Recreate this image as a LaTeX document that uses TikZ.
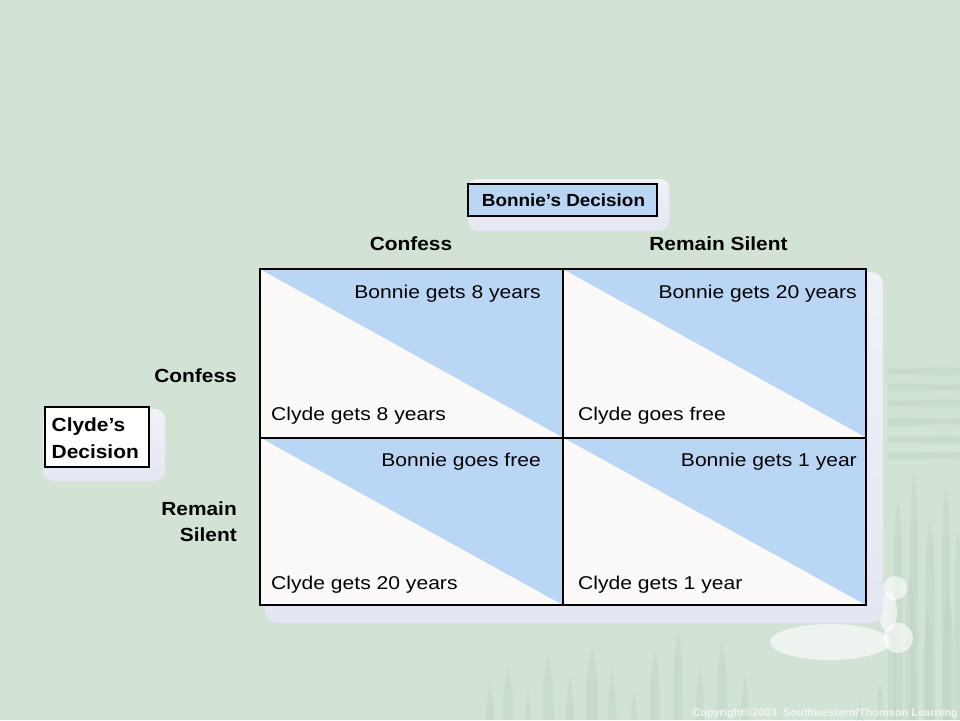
\documentclass[tikz,border=0pt]{standalone}
\usepackage{fontspec}
\setmainfont{Liberation Sans}
\newfontfamily\cellf{Liberation Sans}[FakeStretch=1.14]
\newfontfamily\labf{Liberation Sans}[FakeStretch=1.1]
\newfontfamily\bdf{Liberation Sans}[FakeStretch=1.08]
\definecolor{bgc}{RGB}{210,226,213}
\definecolor{decoc}{RGB}{186,207,190}
\definecolor{shadc}{RGB}{228,231,242}
\definecolor{cellw}{RGB}{252,250,248}
\definecolor{cellb}{RGB}{186,214,245}
\definecolor{copyc}{RGB}{240,245,241}
\tikzset{
  celltxt/.style={inner sep=0pt, font=\cellf\fontsize{18.5}{22}\selectfont},
  labtxt/.style={inner sep=0pt, font=\labf\bfseries\fontsize{19}{22}\selectfont},
  deco/.style={fill=decoc, opacity=0.35},
  gridline/.style={line width=2pt, draw=black},
  shadowbox/.style={top color=shadc!55!white, bottom color=shadc},
}
\begin{document}
\begin{tikzpicture}[x=1pt,y=-1pt]
\useasboundingbox (0,0) rectangle (960,720);
\fill[bgc] (0,0) rectangle (960,720);
% faint background decoration
\foreach \x/\t/\w in {490/680/8,508/665/10,528/690/7,548/655/11,570/675/8,592/645/12,612/668/8,634/690/7,655/650/10,678/630/9,700/665/8,722/640/10,745/675/8,
  898/500/9,914/470/8,930/520/10,946/485/8,958/530/7,892/600/8,910/575/10,928/610/9,948/590/10,880/680/8,860/700/7}
  \fill[deco] (\x-\w/2,720) .. controls (\x-\w/2,\t+30) .. (\x,\t) .. controls (\x+\w/2,\t+30) .. (\x+\w/2,720) -- cycle;
\foreach \y/\a in {368/3,384/-2,400/2,418/-3,436/2,452/-1}
  \fill[deco] (888,\y) .. controls (910,\y+\a) and (935,\y-\a) .. (960,\y) -- (960,\y+7) .. controls (935,\y+7+\a) and (910,\y+7-\a) .. (888,\y+7) -- cycle;
% white scroll ornament
\fill[white, opacity=0.6] (830,642) ellipse [x radius=60, y radius=18];
\fill[white, opacity=0.6] (898,638) circle [radius=15];
\fill[white, opacity=0.6] (895,588) circle [radius=12];
\fill[white, opacity=0.6] (888,612) ellipse [x radius=9, y radius=20];
% matrix shadow
\shade[shadowbox, rounded corners=12pt] (265,272) rectangle (883,623);
% cells
\coordinate (A) at (260,269);
\coordinate (B) at (563,269);
\coordinate (C) at (866,269);
\coordinate (D) at (260,437.5);
\coordinate (E) at (563,437.5);
\coordinate (F) at (866,437.5);
\coordinate (G) at (260,605);
\coordinate (H) at (563,605);
\coordinate (I) at (866,605);
\fill[cellw] (A) rectangle (I);
\fill[cellb] (A) -- (B) -- (E) -- cycle;
\fill[cellb] (B) -- (C) -- (F) -- cycle;
\fill[cellb] (D) -- (E) -- (H) -- cycle;
\fill[cellb] (E) -- (F) -- (I) -- cycle;
\draw[gridline] (A) rectangle (I);
\draw[gridline] (B) -- (H);
\draw[gridline] (D) -- (F);
% cell texts
\node[celltxt, anchor=base east] (b11) at (541,298) {Bonnie gets 8 years};
\node[celltxt, anchor=base west] (c11) at (271,420) {Clyde gets 8 years};
\node[celltxt, anchor=base east] (b12) at (857,298) {Bonnie gets 20 years};
\node[celltxt, anchor=base west] (c12) at (578,420) {Clyde goes free};
\node[celltxt, anchor=base east] (b21) at (541,466.5) {Bonnie goes free};
\node[celltxt, anchor=base west] (c21) at (271,589) {Clyde gets 20 years};
\node[celltxt, anchor=base east] (b22) at (857,466.5) {Bonnie gets 1 year};
\node[celltxt, anchor=base west] (c22) at (578,589) {Clyde gets 1 year};
% column labels
\node[labtxt, anchor=base] (colC) at (411,250) {Confess};
\node[labtxt, anchor=base] (colS) at (718.5,250) {Remain Silent};
% row labels
\node[labtxt, anchor=base east] (rowC) at (237,382) {Confess};
\node[labtxt, anchor=base east] (rowS1) at (237,515) {Remain};
\node[labtxt, anchor=base east] (rowS2) at (237,541.5) {Silent};
% Bonnie's decision box
\shade[shadowbox, rounded corners=9pt] (468,179) rectangle (669,231);
\draw[line width=1.6pt, fill=cellb] (468,184) rectangle (657,216);
\node[inner sep=0pt, anchor=base, font=\bdf\bfseries\fontsize{17.5}{20}\selectfont] (bd) at (563.5,206.5) {Bonnie’s Decision};
% Clyde's decision box
\shade[shadowbox, rounded corners=10pt] (43,409) rectangle (165,481);
\draw[line width=1.6pt, fill=white] (45,407) rectangle (149,467);
\node[labtxt, anchor=base west] (cd1) at (51.5,431.5) {Clyde’s};
\node[labtxt, anchor=base west] (cd2) at (51.5,458) {Decision};
% copyright
\node[inner sep=0pt, anchor=base east, text=copyc, font=\bfseries\fontsize{11}{13}\selectfont] (copy) at (958,716) {Copyright©2003\ \ Southwestern/Thomson Learning};
\end{tikzpicture}
\end{document}
